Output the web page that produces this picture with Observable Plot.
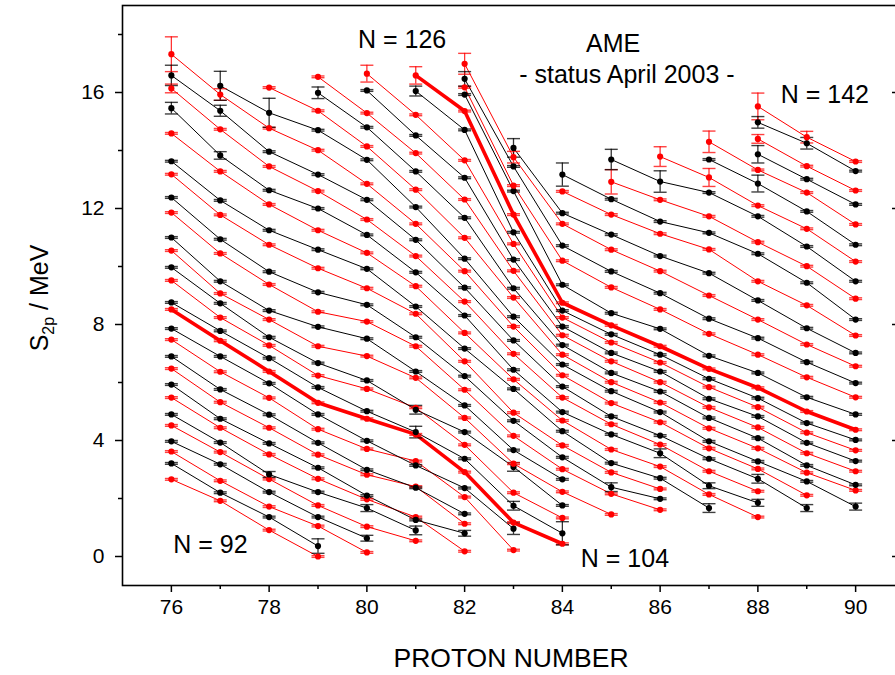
<!DOCTYPE html>
<html><head><meta charset="utf-8">
<script src="https://cdn.jsdelivr.net/npm/d3@7"></script>
<script src="https://cdn.jsdelivr.net/npm/@observablehq/plot@0.6"></script>
<style>
html,body{margin:0;padding:0;background:#fff;overflow:hidden;}
#chart svg{overflow:hidden;display:block;}
</style></head><body><div id="chart"></div>
<script>
// Proton numbers (x) and the first neutron number N present at each Z
const protonNumbers = [76,77,78,79,80,81,82,83,84,85,86,87,88,89,90];
const firstN =        [92,92,92,92,94,96,98,102,104,108,110,113,114,117,119];

// S2p values (MeV) per Z, for N = firstN, firstN+1, ...
const s2pZ76 = [2.66,3.21,3.62,3.97,4.52,4.90,5.48,5.93,6.48,6.90,7.48,7.86,8.52,8.76,9.52,9.97,10.55,11.00,11.86,12.38,13.18,13.63,14.59,15.46,16.14,16.59,17.32];
const s2pZ77 = [1.92,2.20,2.61,3.18,3.60,3.93,4.44,4.75,5.32,5.76,6.37,6.90,7.44,7.78,8.24,8.73,9.07,9.49,10.45,10.94,11.78,12.28,13.28,13.83,14.73,15.37,15.93,16.23];
const s2pZ78 = [0.91,1.36,1.72,2.22,2.67,2.83,3.52,3.90,4.44,4.89,5.47,5.97,6.38,6.84,7.28,7.56,8.17,8.48,9.38,9.82,10.75,11.25,12.14,12.63,13.45,13.96,14.77,15.30,16.17];
const s2pZ79 = [0.00,0.36,1.05,1.36,1.76,2.22,2.68,3.06,3.51,3.92,4.39,4.90,5.30,5.83,6.24,6.67,7.25,7.92,8.44,9.11,9.94,10.58,11.25,12.00,12.60,13.17,14.01,14.70,15.37,15.99,16.54];
const s2pZ80 = [0.14,0.63,1.03,1.67,1.97,2.10,2.82,2.99,3.71,3.99,4.75,5.01,5.78,6.07,6.91,7.51,8.10,8.68,9.25,9.92,10.47,11.09,11.62,12.30,12.85,13.68,14.14,14.80,15.29,16.07,16.65];
const s2pZ81 = [0.54,0.90,1.36,1.26,2.41,2.37,3.29,3.14,4.21,4.29,5.13,5.06,6.16,6.38,7.25,7.56,8.37,8.62,9.32,9.80,10.36,10.92,11.47,12.05,12.65,13.28,13.91,14.52,15.23,16.05,16.59];
const s2pZ82 = [0.18,0.80,1.13,1.47,2.05,2.36,2.91,3.37,3.85,4.29,4.78,5.21,5.75,6.22,6.73,7.17,7.71,8.31,8.79,9.27,9.84,10.27,10.99,11.68,12.31,13.06,13.66,14.71,15.36,15.93,16.18,16.47,16.99];
const s2pZ83 = [0.22,0.96,1.17,1.75,2.20,3.09,3.20,3.67,4.16,4.68,4.96,5.78,6.11,6.44,6.99,7.45,7.93,8.27,8.93,9.25,9.85,10.24,10.78,11.18,11.79,12.60,12.79,13.45,13.77,14.09];
const s2pZ84 = [0.44,0.80,1.33,1.76,2.23,2.66,3.01,3.42,3.83,4.32,4.69,4.98,5.48,5.86,6.25,6.62,6.96,7.29,7.63,7.93,8.24,8.48,8.75,9.37,10.20,10.72,11.47,11.84,12.59,13.17];
const s2pZ85 = [1.45,null,2.16,2.39,2.90,3.22,3.69,4.21,4.56,4.83,5.29,5.70,6.01,6.33,6.73,7.02,7.38,7.66,7.97,8.39,9.28,9.83,10.58,11.10,11.79,12.32,12.92,13.69];
const s2pZ86 = [1.61,1.99,2.33,2.70,3.10,3.56,3.86,4.17,4.63,4.98,5.31,5.69,6.01,6.38,6.69,6.96,7.25,7.85,8.52,9.08,9.84,10.36,11.13,11.55,12.30,12.93,13.79];
const s2pZ87 = [1.67,2.14,2.44,2.94,3.37,3.73,3.97,4.42,4.78,5.14,5.44,5.84,6.13,6.47,6.92,7.68,8.20,9.00,9.77,10.59,11.16,11.73,12.55,13.07,13.69,14.30];
const s2pZ88 = [1.36,1.85,2.25,2.68,3.02,3.28,3.73,4.08,4.45,4.83,5.15,5.46,5.82,6.33,6.96,7.53,8.17,8.83,9.49,10.44,10.84,11.73,12.10,12.86,13.33,13.87,14.40,14.97,15.52];
const s2pZ89 = [1.67,2.11,2.59,2.89,3.14,3.56,3.92,4.27,4.60,5.00,5.49,6.18,6.70,7.31,7.87,8.66,9.44,10.01,10.69,11.30,11.90,12.55,13.01,13.46,14.25,14.46];
const s2pZ90 = [1.72,2.28,2.47,2.94,3.29,3.66,4.02,4.37,4.90,5.49,5.98,6.56,7.02,7.62,8.17,8.89,9.49,10.17,10.75,11.45,12.14,12.62,13.29,13.62];
const s2pByZ = [s2pZ76,s2pZ77,s2pZ78,s2pZ79,s2pZ80,s2pZ81,s2pZ82,s2pZ83,s2pZ84,s2pZ85,s2pZ86,s2pZ87,s2pZ88,s2pZ89,s2pZ90];

// larger uncertainties [Z, N, ±MeV]; all others use the default
const defaultErr = 0.03;
const largeErrors = [
  [76,118,0.60],[76,117,0.35],[76,116,0.15],[76,115,0.20],
  [77,119,0.50],[77,118,0.20],[77,117,0.19],[77,115,0.13],
  [78,119,0.50],[78,97,0.10],[79,121,0.20],[79,93,0.25],
  [80,124,0.29],[80,97,0.12],[80,95,0.10],
  [81,126,0.30],[81,125,0.17],[81,107,0.15],[81,105,0.20],[81,97,0.15],
  [82,130,0.36],[82,129,0.25],[82,99,0.10],
  [83,131,0.32],[83,130,0.20],[83,103,0.20],[83,105,0.15],[83,107,0.15],
  [84,133,0.40],[84,105,0.40],
  [85,135,0.35],[85,134,0.42],[85,111,0.15],
  [86,136,0.34],[86,135,0.37],[86,115,0.15],
  [87,138,0.37],[87,136,0.31],[87,113,0.15],[87,115,0.10],
  [88,142,0.46],[88,141,0.20],[88,140,0.15],[88,139,0.30],[88,137,0.29],[88,115,0.12],[88,117,0.15],
  [89,142,0.20],[89,141,0.20],[89,117,0.12],[90,119,0.12]
];
const thickN = [104,126];

const xMajor = [76,78,80,82,84,86,88,90];
const xMinor = [77,79,81,83,85,87,89];
const yMajor = [0,4,8,12,16];
const yMinor = [2,6,10,14,18];

const annotations = [
  {text:"N = 126", x:80.72, y:17.82},
  {text:"AME", x:85.04, y:17.68},
  {text:"- status April 2003 -", x:85.32, y:16.59},
  {text:"N = 142", x:89.37, y:15.90},
  {text:"N = 92", x:76.80, y:0.39},
  {text:"N = 104", x:85.28, y:-0.10}
];

const RED = "#ff0000", BLACK = "#000000";
const rows = [];
protonNumbers.forEach((Z, i) => {
  s2pByZ[i].forEach((S, j) => {
    if (S == null) return;
    const N = firstN[i] + j;
    const big = largeErrors.find(e => e[0] === Z && e[1] === N);
    rows.push({Z, N, S, e: big ? big[2] : defaultErr, c: N % 2 === 0 ? RED : BLACK});
  });
});
const caps = rows.flatMap(d => [{...d, v: d.S - d.e}, {...d, v: d.S + d.e}]);
const capSymbol = {draw(ctx, size) { const r = Math.sqrt(size / Math.PI); ctx.moveTo(-r, 0); ctx.lineTo(r, 0); }};

const FONT = "'Liberation Sans', Arial, Helvetica, sans-serif";
const W = 895, H = 675;
const chart = Plot.plot({
  width: W, height: H,
  marginLeft: 122, marginRight: -9, marginTop: 5, marginBottom: 90,
  x: {domain: [75, 91]},
  y: {domain: [-1, 19]},
  style: {fontFamily: FONT, background: "#fff", color: "#000", overflow: "hidden"},
  marks: [
    Plot.axisX({ticks: xMajor, tickSize: 7, tickPadding: 7, fontSize: 21, label: null, tickFormat: d => String(d), strokeWidth: 1.5}),
    Plot.axisX({ticks: xMinor, tickSize: 4, tickFormat: () => "", label: null, strokeWidth: 1.5}),
    Plot.axisY({ticks: yMajor, tickSize: 7, tickPadding: 11, fontSize: 21, label: null, tickFormat: d => String(d), strokeWidth: 1.5}),
    Plot.axisY({ticks: yMinor, tickSize: 4, tickFormat: () => "", label: null, strokeWidth: 1.5}),
    Plot.axisY({anchor: "right", ticks: yMajor, tickSize: 13, insetRight: 13, tickFormat: () => "", label: null, strokeWidth: 1.5}),
    Plot.frame({stroke: "#000", strokeWidth: 1.6}),
    Plot.line(rows.filter(d => !thickN.includes(d.N)), {x: "Z", y: "S", z: "N", stroke: "c", strokeWidth: 1}),
    Plot.line(rows.filter(d => thickN.includes(d.N)), {x: "Z", y: "S", z: "N", stroke: RED, strokeWidth: 3.6}),
    Plot.ruleX(rows.filter(d => d.e > 0.09), {x: "Z", y1: d => d.S - d.e, y2: d => d.S + d.e, stroke: "c", strokeWidth: 1.3, strokeOpacity: 0.8}),
    Plot.dot(caps, {x: "Z", y: "v", symbol: capSymbol, r: 6.5, fill: "none", stroke: "c", strokeWidth: 1.4, strokeOpacity: 0.75}),
    Plot.dot(rows, {x: "Z", y: "S", r: 3.1, fill: "c", stroke: "none"}),
    Plot.text(annotations, {x: "x", y: "y", text: "text", fontSize: 25, textAnchor: "middle", fill: "#000"})
  ]
});

const svg = d3.select(chart);
svg.append("text")
  .attr("x", 511).attr("y", 667)
  .attr("text-anchor", "middle").attr("font-family", FONT).attr("font-size", 26.5).attr("fill", "#000")
  .text("PROTON NUMBER");
const yl = svg.append("text")
  .attr("transform", "translate(48,298) rotate(-90)")
  .attr("text-anchor", "middle").attr("font-family", FONT).attr("font-size", 25).attr("fill", "#000");
yl.append("tspan").text("S");
yl.append("tspan").attr("font-size", 16).attr("dy", 6).text("2p");
yl.append("tspan").attr("dy", -6).text(" / MeV");

document.getElementById("chart").appendChild(chart);
</script>
</body></html>
